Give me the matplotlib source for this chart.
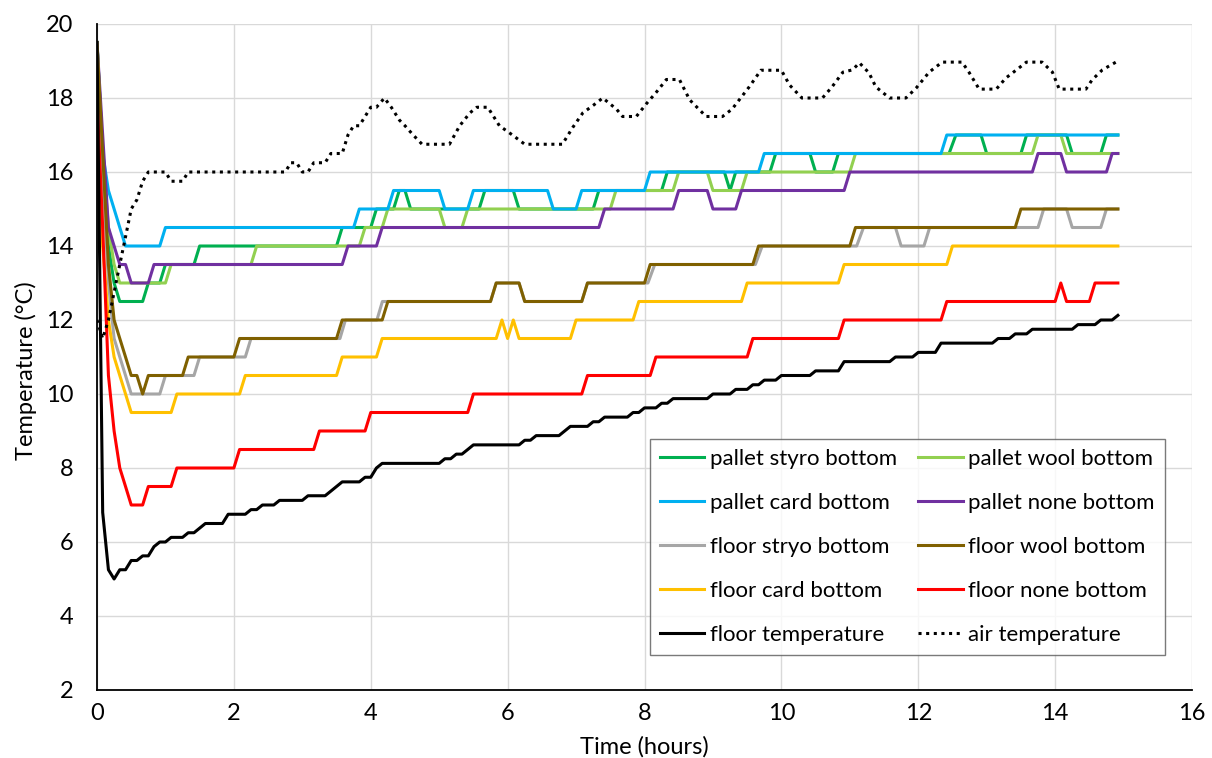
import matplotlib
matplotlib.use('Agg')
import matplotlib.pyplot as plt

plt.rcParams['font.family'] = ['Lato', 'DejaVu Sans']

# ---------------- data (time in hours, temperature in °C) ----------------
t_pallet_styro = [0, 0.083, 0.167, 0.25, 0.333, 0.667, 0.75, 0.917, 1.0, 1.417, 1.5, 3.5, 3.583, 4.0, 4.083,
                  4.333, 4.417, 4.5, 4.583, 5.583, 5.667, 6.083, 6.167, 7.25, 7.333, 8.25, 8.333, 9.167, 9.25,
                  9.333, 9.833, 9.917, 10.417, 10.5, 10.75, 10.833, 12.45, 12.55, 12.917, 13.0, 13.5, 13.583,
                  14.167, 14.25, 14.667, 14.75, 14.917]
y_pallet_styro = [19.5, 16.0, 14.0, 13.0, 12.5, 12.5, 13.0, 13.0, 13.5, 13.5, 14.0, 14.0, 14.5, 14.5, 15.0,
                  15.0, 15.5, 15.5, 15.0, 15.0, 15.5, 15.5, 15.0, 15.0, 15.5, 15.5, 16.0, 16.0, 15.5,
                  16.0, 16.0, 16.5, 16.5, 16.0, 16.0, 16.5, 16.5, 17.0, 17.0, 16.5, 16.5, 17.0,
                  17.0, 16.5, 16.5, 17.0, 17.0]

t_pallet_wool = [0, 0.083, 0.167, 0.25, 0.333, 1.0, 1.083, 2.25, 2.333, 3.833, 3.917, 4.167, 4.25, 5.0, 5.083,
                 5.333, 5.417, 7.5, 7.583, 8.417, 8.5, 8.917, 9.0, 9.417, 9.5, 11.0, 11.083, 13.667, 13.75,
                 14.083, 14.167, 14.917]
y_pallet_wool = [19.5, 16.5, 14.5, 13.5, 13.0, 13.0, 13.5, 13.5, 14.0, 14.0, 14.5, 14.5, 15.0, 15.0, 14.5,
                 14.5, 15.0, 15.0, 15.5, 15.5, 16.0, 16.0, 15.5, 15.5, 16.0, 16.0, 16.5, 16.5, 17.0,
                 17.0, 16.5, 16.5]

t_pallet_card = [0, 0.083, 0.167, 0.25, 0.333, 0.417, 0.917, 1.0, 3.75, 3.833, 4.25, 4.333, 5.0, 5.083, 5.417,
                 5.5, 6.583, 6.667, 7.0, 7.083, 8.0, 8.083, 9.667, 9.75, 12.333, 12.417, 14.917]
y_pallet_card = [19.5, 16.5, 15.5, 15.0, 14.5, 14.0, 14.0, 14.5, 14.5, 15.0, 15.0, 15.5, 15.5, 15.0, 15.0,
                 15.5, 15.5, 15.0, 15.0, 15.5, 15.5, 16.0, 16.0, 16.5, 16.5, 17.0, 17.0]

t_pallet_none = [0, 0.083, 0.167, 0.25, 0.333, 0.417, 0.5, 0.75, 0.833, 3.583, 3.667, 4.083, 4.167, 7.333,
                 7.417, 8.417, 8.5, 8.917, 9.0, 9.333, 9.417, 10.917, 11.0, 13.667, 13.75, 14.083, 14.167,
                 14.75, 14.833, 14.917]
y_pallet_none = [19.5, 17.0, 14.5, 14.0, 13.5, 13.5, 13.0, 13.0, 13.5, 13.5, 14.0, 14.0, 14.5, 14.5,
                 15.0, 15.0, 15.5, 15.5, 15.0, 15.0, 15.5, 15.5, 16.0, 16.0, 16.5, 16.5, 16.0,
                 16.0, 16.5, 16.5]

t_floor_styro = [0, 0.083, 0.167, 0.25, 0.333, 0.417, 0.5, 0.917, 1.0, 1.417, 1.5, 2.167, 2.25, 3.55, 3.63,
                 4.09, 4.17, 5.75, 5.833, 6.167, 6.25, 7.083, 7.167, 8.05, 8.15, 9.62, 9.72, 11.1, 11.2,
                 11.667, 11.75, 12.083, 12.167, 13.75, 13.833, 14.167, 14.25, 14.667, 14.75, 14.917]
y_floor_styro = [19.5, 16.0, 13.0, 11.5, 11.0, 10.5, 10.0, 10.0, 10.5, 10.5, 11.0, 11.0, 11.5, 11.5, 12.0,
                 12.0, 12.5, 12.5, 13.0, 13.0, 12.5, 12.5, 13.0, 13.0, 13.5, 13.5, 14.0, 14.0, 14.5,
                 14.5, 14.0, 14.0, 14.5, 14.5, 15.0, 15.0, 14.5, 14.5, 15.0, 15.0]

t_floor_wool = [0, 0.083, 0.167, 0.25, 0.333, 0.417, 0.5, 0.583, 0.667, 0.75, 1.25, 1.333, 2.0, 2.083, 3.5,
                3.583, 4.167, 4.25, 5.75, 5.833, 6.167, 6.25, 7.083, 7.167, 8.0, 8.083, 9.583, 9.667, 11.0,
                11.083, 13.417, 13.5, 14.917]
y_floor_wool = [19.5, 16.5, 13.5, 12.0, 11.5, 11.0, 10.5, 10.5, 10.0, 10.5, 10.5, 11.0, 11.0, 11.5, 11.5,
                12.0, 12.0, 12.5, 12.5, 13.0, 13.0, 12.5, 12.5, 13.0, 13.0, 13.5, 13.5, 14.0, 14.0,
                14.5, 14.5, 15.0, 15.0]

t_floor_card = [0, 0.083, 0.167, 0.25, 0.333, 0.417, 0.5, 1.083, 1.167, 2.083, 2.167, 3.5, 3.583, 4.083, 4.167,
                5.833, 5.917, 6.0, 6.083, 6.167, 6.917, 7.0, 7.833, 7.917, 9.417, 9.5, 10.833, 10.917,
                12.417, 12.5, 14.917]
y_floor_card = [17.5, 14.0, 12.0, 11.0, 10.5, 10.0, 9.5, 9.5, 10.0, 10.0, 10.5, 10.5, 11.0, 11.0, 11.5,
                11.5, 12.0, 11.5, 12.0, 11.5, 11.5, 12.0, 12.0, 12.5, 12.5, 13.0, 13.0, 13.5,
                13.5, 14.0, 14.0]

t_floor_none = [0, 0.083, 0.167, 0.25, 0.333, 0.417, 0.5, 0.667, 0.75, 1.083, 1.167, 2.0, 2.083, 3.167, 3.25,
                3.917, 4.0, 5.417, 5.5, 7.083, 7.167, 8.083, 8.167, 9.5, 9.583, 10.833, 10.917, 12.333,
                12.417, 14.0, 14.083, 14.167, 14.5, 14.583, 14.917]
y_floor_none = [18.0, 14.5, 10.5, 9.0, 8.0, 7.5, 7.0, 7.0, 7.5, 7.5, 8.0, 8.0, 8.5, 8.5, 9.0,
                9.0, 9.5, 9.5, 10.0, 10.0, 10.5, 10.5, 11.0, 11.0, 11.5, 11.5, 12.0, 12.0,
                12.5, 12.5, 13.0, 12.5, 12.5, 13.0, 13.0]

t_floor_temp = [0, 0.083, 0.167, 0.25, 0.333, 0.417, 0.5, 0.583, 0.667, 0.75, 0.833, 0.917, 1.0, 1.083, 1.25,
                1.333, 1.417, 1.583, 1.833, 1.917, 2.167, 2.25, 2.333, 2.417, 2.583, 2.667, 3.0, 3.083,
                3.333, 3.417, 3.583, 3.833, 3.917, 4.0, 4.083, 4.167, 5.0, 5.083, 5.167, 5.25, 5.333,
                5.417, 5.5, 6.167, 6.25, 6.333, 6.417, 6.75, 6.917, 7.167, 7.25, 7.333, 7.417, 7.75,
                7.833, 7.917, 8.0, 8.167, 8.25, 8.333, 8.417, 8.917, 9.0, 9.25, 9.333, 9.5, 9.583,
                9.667, 9.75, 9.917, 10.0, 10.417, 10.5, 10.833, 10.917, 11.583, 11.667, 11.917, 12.0,
                12.25, 12.333, 13.083, 13.167, 13.333, 13.417, 13.583, 13.667, 14.25, 14.333, 14.583,
                14.667, 14.833, 14.917]
y_floor_temp = [19.5, 6.8, 5.25, 5.0, 5.25, 5.25, 5.5, 5.5, 5.625, 5.625, 5.875, 6.0, 6.0, 6.125, 6.125,
                6.25, 6.25, 6.5, 6.5, 6.75, 6.75, 6.875, 6.875, 7.0, 7.0, 7.125, 7.125, 7.25,
                7.25, 7.375, 7.625, 7.625, 7.75, 7.75, 8.0, 8.125, 8.125, 8.25, 8.25, 8.375, 8.375,
                8.5, 8.625, 8.625, 8.75, 8.75, 8.875, 8.875, 9.125, 9.125, 9.25, 9.25, 9.375, 9.375,
                9.5, 9.5, 9.625, 9.625, 9.75, 9.75, 9.875, 9.875, 10.0, 10.0, 10.125, 10.125, 10.25,
                10.25, 10.375, 10.375, 10.5, 10.5, 10.625, 10.625, 10.875, 10.875, 11.0, 11.0, 11.125,
                11.125, 11.375, 11.375, 11.5, 11.5, 11.625, 11.625, 11.75, 11.75, 11.875, 11.875,
                12.0, 12.0, 12.125]

t_air = [0, 0.083, 0.167, 0.25, 0.333, 0.417, 0.5, 0.583, 0.667, 0.75, 1.0, 1.083, 1.25, 1.333, 2.75, 2.833,
         2.917, 3.0, 3.083, 3.167, 3.333, 3.417, 3.583, 3.667, 3.75, 3.833, 3.917, 4.0, 4.083, 4.2, 4.3,
         4.42, 4.5, 4.62, 4.75, 5.15, 5.3, 5.45, 5.55, 5.71, 5.88, 6.07, 6.25, 6.8, 6.95, 7.1, 7.25,
         7.39, 7.59, 7.68, 7.88, 8.03, 8.17, 8.32, 8.51, 8.66, 8.9, 9.14, 9.28, 9.53, 9.7, 10.0, 10.12,
         10.3, 10.6, 10.74, 10.9, 11.04, 11.14, 11.28, 11.38, 11.58, 11.82, 11.97, 12.16, 12.35, 12.64,
         12.74, 12.89, 13.14, 13.28, 13.47, 13.58, 13.81, 13.96, 14.06, 14.45, 14.54, 14.69, 14.917]
y_air = [12.0, 11.5, 12.0, 12.75, 13.5, 14.25, 15.0, 15.25, 15.75, 16.0, 16.0, 15.75, 15.75, 16.0, 16.0, 16.25,
         16.25, 16.0, 16.0, 16.25, 16.25, 16.5, 16.5, 17.0, 17.25, 17.25, 17.5, 17.75, 17.75, 18.0, 17.75,
         17.4, 17.25, 17.0, 16.75, 16.75, 17.25, 17.6, 17.75, 17.75, 17.25, 17.0, 16.75, 16.75, 17.2, 17.6, 17.8,
         18.0, 17.7, 17.5, 17.5, 17.85, 18.15, 18.5, 18.5, 17.95, 17.5, 17.5, 17.7, 18.3, 18.75, 18.75, 18.35,
         18.0, 18.0, 18.3, 18.7, 18.76, 18.95, 18.68, 18.3, 18.0, 18.0, 18.27, 18.7, 18.97, 18.97,
         18.7, 18.24, 18.24, 18.54, 18.81, 18.97, 18.97, 18.7, 18.24, 18.24, 18.49, 18.76, 19.0]

labels = ['pallet styro bottom', 'pallet wool bottom', 'pallet card bottom', 'pallet none bottom',
          'floor stryo bottom', 'floor wool bottom', 'floor card bottom', 'floor none bottom',
          'floor temperature', 'air temperature']
x_ticks = [0, 2, 4, 6, 8, 10, 12, 14, 16]
y_ticks = [2, 4, 6, 8, 10, 12, 14, 16, 18, 20]

series = [
    (t_pallet_styro, y_pallet_styro, '#00B050', '-'),
    (t_pallet_wool, y_pallet_wool, '#92D050', '-'),
    (t_pallet_card, y_pallet_card, '#00B0F0', '-'),
    (t_pallet_none, y_pallet_none, '#7030A0', '-'),
    (t_floor_styro, y_floor_styro, '#A6A6A6', '-'),
    (t_floor_wool, y_floor_wool, '#7F6000', '-'),
    (t_floor_card, y_floor_card, '#FFC000', '-'),
    (t_floor_none, y_floor_none, '#FF0000', '-'),
    (t_floor_temp, y_floor_temp, '#000000', '-'),
    (t_air, y_air, '#000000', (0, (1, 1.5))),
]

W, H = 1212, 758
fig = plt.figure(figsize=(W / 100, H / 100), dpi=100)
ax = fig.add_axes([97 / W, 1 - 690 / H, 1095 / W, 666 / H])

handles = []
for (t, y, c, ls), lab in zip(series, labels):
    ln, = ax.plot(t, y, color=c, lw=2.2, ls=ls, label=lab, solid_joinstyle='round')
    handles.append(ln)

ax.set_xlim(0, 16)
ax.set_ylim(2, 20)
ax.set_xticks(x_ticks)
ax.set_yticks(y_ticks)
ax.grid(True, color='#d9d9d9', lw=1.0)
ax.set_axisbelow(True)
for s in ['top', 'right']:
    ax.spines[s].set_visible(False)
for s in ['left', 'bottom']:
    ax.spines[s].set_color('black')
    ax.spines[s].set_linewidth(1.3)
ax.tick_params(axis='both', length=0, labelsize=17, colors='black')
ax.tick_params(axis='x', pad=9)
ax.tick_params(axis='y', pad=17)

ax.set_xlabel('Time (hours)', fontsize=17)
ax.xaxis.set_label_coords(0.5, -0.069)
ax.set_ylabel('Temperature (°C)', fontsize=17)
ax.yaxis.set_label_coords(-0.055, 0.48)

order = [0, 2, 4, 6, 8, 1, 3, 5, 7, 9]
leg = ax.legend([handles[i] for i in order], [labels[i] for i in order], ncol=2,
                loc='upper left', bbox_to_anchor=((650 - 97) / 1095, (690 - 439) / 666),
                bbox_transform=ax.transAxes, frameon=True, fancybox=False, edgecolor='#595959',
                fontsize=16, handlelength=2.0, handletextpad=0.25, columnspacing=0.95,
                labelspacing=1.08, borderpad=0.45, borderaxespad=0)
leg.get_frame().set_linewidth(1.0)

fig.savefig('out.png', dpi=100)
